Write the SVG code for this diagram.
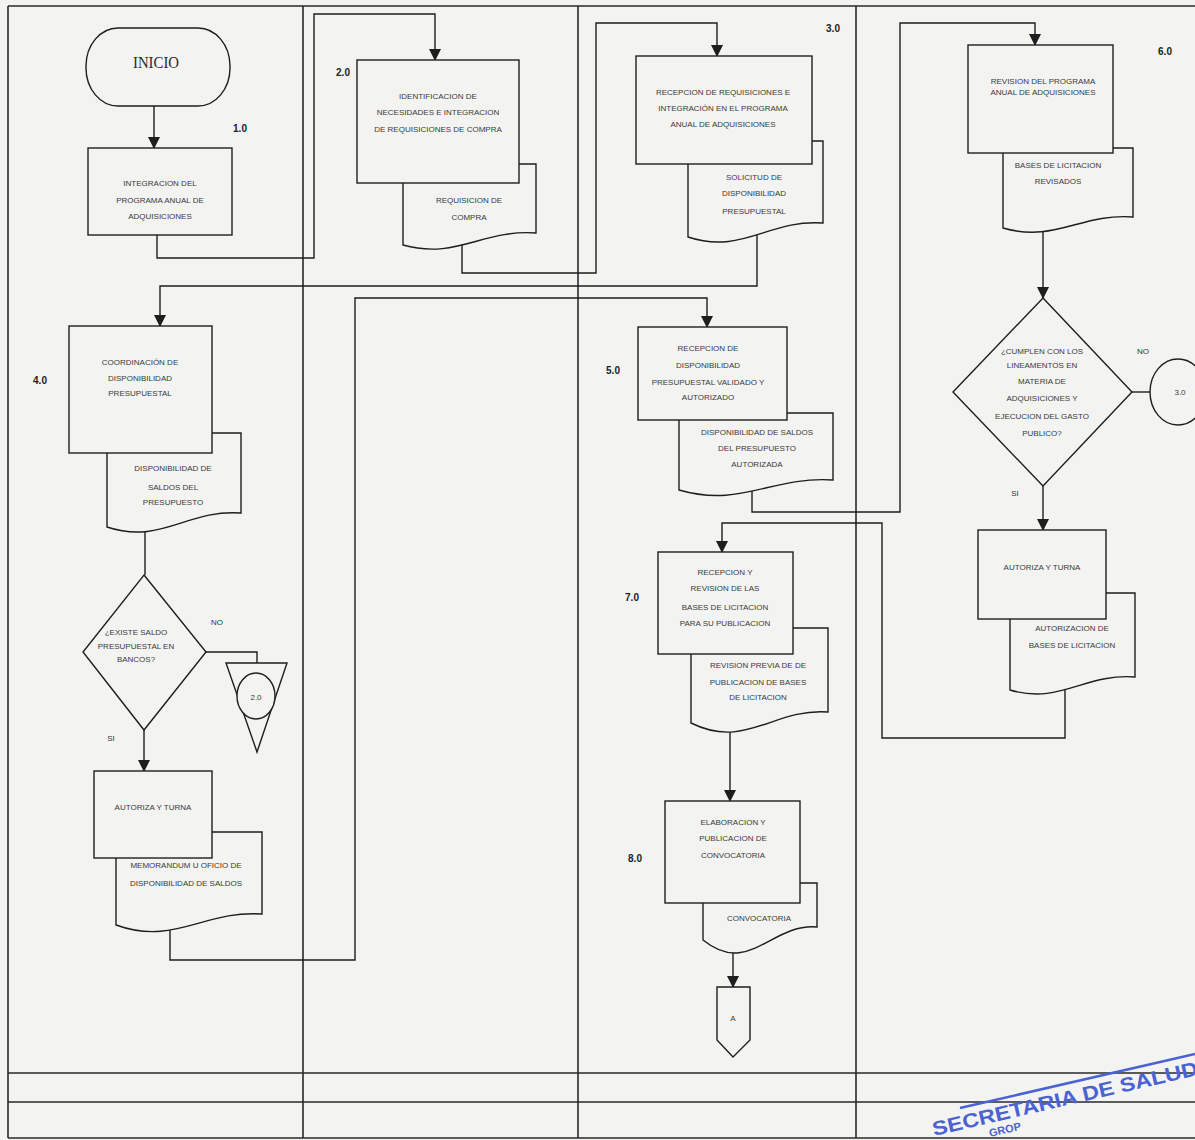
<svg xmlns="http://www.w3.org/2000/svg" width="1195" height="1140" viewBox="0 0 1195 1140">
<style>
.frame{stroke:#2a2a2a;stroke-width:1.6;fill:none}
.shape{fill:#f3f3f1;stroke:#1e1e1e;stroke-width:1.4}
.conn{fill:none;stroke:#1e1e1e;stroke-width:1.4}
.t{font-family:"Liberation Sans",Arial,sans-serif;font-size:8px;fill:#3a3a3a;text-anchor:middle}
.num{font-family:"Liberation Sans",Arial,sans-serif;font-size:10px;font-weight:bold;fill:#222;text-anchor:middle}
.lbl{font-family:"Liberation Sans",Arial,sans-serif;font-size:8px;fill:#333;text-anchor:middle}
.stamp{font-family:"Liberation Sans",Arial,sans-serif;fill:#4a62d4}
</style>
<defs>
<marker id="arr" markerUnits="userSpaceOnUse" markerWidth="12" markerHeight="14" viewBox="0 0 12 14" refX="11" refY="7" orient="auto">
<path d="M0,1 L12,7 L0,13 Z" fill="#1e1e1e"/>
</marker>
</defs>
<rect x="0" y="0" width="1195" height="1140" fill="#f3f3f1"/>
<g id="frame">
<path class="frame" d="M8,6 H1195 M8,1073 H1195 M8,1102 H1195 M8,1138 H1195 M8,6 V1138 M303,6 V1138 M578,6 V1138 M856,6 V1138"/>
</g>
<g id="connectors">
<path class="conn" d="M154,106 V148" marker-end="url(#arr)"/>
<path class="conn" d="M157,235 V258 H314 V14 H435 V60" marker-end="url(#arr)"/>
<path class="conn" d="M462,240 V273 H596 V23 H717 V56" marker-end="url(#arr)"/>
<path class="conn" d="M757,232 V286 H160 V326" marker-end="url(#arr)"/>
<path class="conn" d="M145,525 V575"/>
<path class="conn" d="M206,652 H257 V663"/>
<path class="conn" d="M144,730 V771" marker-end="url(#arr)"/>
<path class="conn" d="M170,925 V960 H355 V298 H707 V327" marker-end="url(#arr)"/>
<path class="conn" d="M752,488 V512 H900 V23 H1035 V45" marker-end="url(#arr)"/>
<path class="conn" d="M1043,228 V298" marker-end="url(#arr)"/>
<path class="conn" d="M1132,392 H1150"/>
<path class="conn" d="M1043,486 V530" marker-end="url(#arr)"/>
<path class="conn" d="M1065,688 V738 H882 V523 H722 V552" marker-end="url(#arr)"/>
<path class="conn" d="M730,728 V801" marker-end="url(#arr)"/>
<path class="conn" d="M733,948 V987" marker-end="url(#arr)"/>
</g>
<g id="inicio">
<rect class="shape" x="86" y="28" width="144" height="78" rx="32" ry="38"/>
<text x="156" y="68" font-family="Liberation Serif,'Times New Roman',serif" font-size="16" fill="#2a2a2a" text-anchor="middle" textLength="46" lengthAdjust="spacingAndGlyphs">INICIO</text>
</g>
<g id="n1">
<rect class="shape" x="88" y="148" width="144" height="87"/>
<text class="t" x="160" y="186">INTEGRACION DEL</text>
<text class="t" x="160" y="203">PROGRAMA ANUAL DE</text>
<text class="t" x="160" y="219">ADQUISICIONES</text>
<text class="num" x="240" y="132">1.0</text>
</g>
<g id="n2">
<path class="shape" d="M403,164 H536 V233 C483,229 456,260 403,245 Z"/>
<rect class="shape" x="357" y="60" width="162" height="123"/>
<text class="t" x="438" y="99">IDENTIFICACION DE</text>
<text class="t" x="438" y="115">NECESIDADES E INTEGRACION</text>
<text class="t" x="438" y="132">DE REQUISICIONES DE COMPRA</text>
<text class="t" x="469" y="203" font-size="7.4">REQUISICION DE</text>
<text class="t" x="469" y="220" font-size="7.4">COMPRA</text>
<text class="num" x="343" y="76">2.0</text>
</g>
<g id="n3">
<path class="shape" d="M688,141 H823 V223 C769,219 742,255 688,237 Z"/>
<rect class="shape" x="636" y="56" width="176" height="108"/>
<text class="t" x="723" y="95" font-size="7.4">RECEPCION DE REQUISICIONES E</text>
<text class="t" x="723" y="111" font-size="7.4">INTEGRACIÓN EN EL PROGRAMA</text>
<text class="t" x="723" y="127" font-size="7.4">ANUAL DE ADQUISICIONES</text>
<text class="t" x="754" y="180" font-size="7">SOLICITUD DE</text>
<text class="t" x="754" y="196" font-size="7">DISPONIBILIDAD</text>
<text class="t" x="754" y="214" font-size="7">PRESUPUESTAL</text>
<text class="num" x="833" y="32">3.0</text>
</g>
<g id="n4">
<path class="shape" d="M107,433 H241 V513 C187,509 161,545 107,527 Z"/>
<rect class="shape" x="69" y="326" width="143" height="127"/>
<text class="t" x="140" y="365">COORDINACIÓN DE</text>
<text class="t" x="140" y="381">DISPONIBILIDAD</text>
<text class="t" x="140" y="396">PRESUPUESTAL</text>
<text class="t" x="173" y="471">DISPONIBILIDAD DE</text>
<text class="t" x="173" y="490">SALDOS DEL</text>
<text class="t" x="173" y="505">PRESUPUESTO</text>
<text class="num" x="40" y="384">4.0</text>
</g>
<g id="d4">
<polygon class="shape" points="144,575 206,652 144,730 83,652"/>
<text class="t" x="136" y="635" font-size="6.4">¿EXISTE SALDO</text>
<text class="t" x="136" y="649" font-size="6.4">PRESUPUESTAL EN</text>
<text class="t" x="136" y="662" font-size="6.4">BANCOS?</text>
<text class="lbl" x="217" y="625">NO</text>
<text class="lbl" x="111" y="741">SI</text>
</g>
<g id="off20">
<polygon class="shape" points="226,663 287,663 257,752"/>
<ellipse class="shape" cx="256" cy="696" rx="19" ry="23"/>
<text class="t" x="256" y="700">2.0</text>
</g>
<g id="n4b">
<path class="shape" d="M116,832 H262 V914 C204,910 174,946 116,925 Z"/>
<rect class="shape" x="94" y="771" width="118" height="87"/>
<text class="t" x="153" y="810">AUTORIZA Y TURNA</text>
<text class="t" x="186" y="868" font-size="7.5">MEMORANDUM U OFICIO DE</text>
<text class="t" x="186" y="886" font-size="7.5">DISPONIBILIDAD DE SALDOS</text>
</g>
<g id="n5">
<path class="shape" d="M679,413 H833 V480 C771,476 741,508 679,490 Z"/>
<rect class="shape" x="638" y="327" width="149" height="93"/>
<text class="t" x="708" y="351" font-size="7.5">RECEPCION DE</text>
<text class="t" x="708" y="368" font-size="7.5">DISPONIBILIDAD</text>
<text class="t" x="708" y="385" font-size="7.5">PRESUPUESTAL VALIDADO Y</text>
<text class="t" x="708" y="400" font-size="7.5">AUTORIZADO</text>
<text class="t" x="757" y="435" font-size="7.5">DISPONIBILIDAD DE SALDOS</text>
<text class="t" x="757" y="451" font-size="7.5">DEL PRESUPUESTO</text>
<text class="t" x="757" y="467" font-size="7.5">AUTORIZADA</text>
<text class="num" x="613" y="374">5.0</text>
</g>
<g id="n6">
<path class="shape" d="M1003,148 H1133 V217 C1081,213 1055,243 1003,228 Z"/>
<rect class="shape" x="968" y="45" width="145" height="108"/>
<text class="t" x="1043" y="84">REVISION DEL PROGRAMA</text>
<text class="t" x="1043" y="95">ANUAL DE ADQUISICIONES</text>
<text class="t" x="1058" y="168" font-size="7">BASES DE LICITACION</text>
<text class="t" x="1058" y="184" font-size="7">REVISADOS</text>
<text class="num" x="1165" y="55">6.0</text>
</g>
<g id="d6">
<polygon class="shape" points="1043,298 1132,392 1043,486 953,392"/>
<text class="t" x="1042" y="354">¿CUMPLEN  CON LOS</text>
<text class="t" x="1042" y="368">LINEAMENTOS EN</text>
<text class="t" x="1042" y="384">MATERIA DE</text>
<text class="t" x="1042" y="401">ADQUISICIONES Y</text>
<text class="t" x="1042" y="419">EJECUCION DEL GASTO</text>
<text class="t" x="1042" y="436">PUBLICO?</text>
<text class="lbl" x="1143" y="354" font-size="7">NO</text>
<text class="lbl" x="1015" y="496" font-size="7">SI</text>
</g>
<g id="off30">
<ellipse class="shape" cx="1178" cy="392" rx="28" ry="33"/>
<text class="t" x="1180" y="395" font-size="7">3.0</text>
</g>
<g id="n6b">
<path class="shape" d="M1010,593 H1135 V677 C1085,673 1060,705 1010,690 Z"/>
<rect class="shape" x="978" y="530" width="128" height="89"/>
<text class="t" x="1042" y="570" font-size="8.5">AUTORIZA  Y  TURNA</text>
<text class="t" x="1072" y="631">AUTORIZACION DE</text>
<text class="t" x="1072" y="648">BASES DE LICITACION</text>
</g>
<g id="n7">
<path class="shape" d="M691,628 H828 V712 C773,708 746,750 691,723 Z"/>
<rect class="shape" x="658" y="552" width="135" height="102"/>
<text class="t" x="725" y="575" font-size="8.8">RECEPCION Y</text>
<text class="t" x="725" y="591" font-size="8.8">REVISION DE LAS</text>
<text class="t" x="725" y="610" font-size="8.8">BASES DE LICITACION</text>
<text class="t" x="725" y="626" font-size="8.8">PARA SU PUBLICACION</text>
<text class="t" x="758" y="668">REVISION PREVIA DE DE</text>
<text class="t" x="758" y="685">PUBLICACION DE BASES</text>
<text class="t" x="758" y="700">DE LICITACION</text>
<text class="num" x="632" y="601">7.0</text>
</g>
<g id="n8">
<path class="shape" d="M703,883 H817 V927 C771,923 749,977 703,940 Z"/>
<rect class="shape" x="665" y="801" width="135" height="102"/>
<text class="t" x="733" y="825" font-size="8.6">ELABORACION Y</text>
<text class="t" x="733" y="841" font-size="8.6">PUBLICACION DE</text>
<text class="t" x="733" y="858" font-size="8.6">CONVOCATORIA</text>
<text class="t" x="759" y="921" font-size="7.5">CONVOCATORIA</text>
<text class="num" x="635" y="862" font-size="13" font-weight="normal">8.0</text>
</g>
<g id="offA">
<polygon class="shape" points="717,987 750,987 750,1040 733,1057 717,1040"/>
<text class="t" x="733" y="1021" font-size="9">A</text>
</g>
<g id="stamp">
<path d="M960,1108 L1195,1054" stroke="#4a62d4" stroke-width="2.5" fill="none"/>
<text class="stamp" x="934" y="1136" transform="rotate(-13 934 1136)" font-size="20" font-weight="bold" textLength="272" lengthAdjust="spacingAndGlyphs">SECRETARIA DE SALUD</text>
<text class="stamp" x="990" y="1137" transform="rotate(-13 990 1137)" font-size="11" font-weight="bold">GROP</text>
</g>
</svg>
